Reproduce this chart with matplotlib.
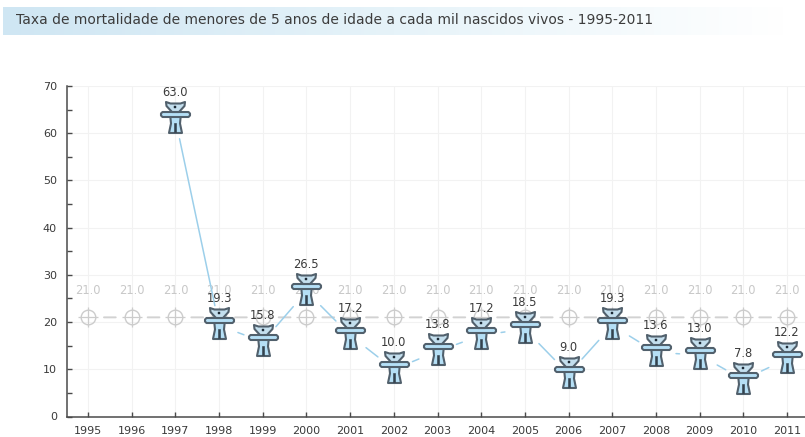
import numpy as np
import matplotlib
matplotlib.use('Agg')
import matplotlib.pyplot as plt
from matplotlib.colors import LinearSegmentedColormap
from matplotlib.path import Path

years = list(range(1995, 2012))
rates = [None, None, 63.0, 19.3, 15.8, 26.5, 17.2, 10.0, 13.8, 17.2, 18.5, 9.0, 19.3, 13.6, 13.0, 7.8, 12.2]
ref_rate = [21.0] * 17
title = "Taxa de mortalidade de menores de 5 anos de idade a cada mil nascidos vivos - 1995-2011"

W, H = 805, 437
DARK = '#4a4a4a'
LINE_BLUE = '#9ccfea'
GRID = '#f2f2f2'
OUTLINE = '#51606c'


def make_path(points):
    # bear sits about 2 px above its value in the picture
    points = [(x, y + 2) for x, y in points]
    codes = [Path.MOVETO] + [Path.LINETO] * (len(points) - 1) + [Path.CLOSEPOLY]
    return Path(points + [points[0]], codes)


# teddy shape, coordinates are pixels from the bear centre
body = make_path([(-5.5, 4), (5.5, 4), (4.5, -6), (6.5, -15.5), (-6.5, -15.5), (-4.5, -6)])
arms = make_path([(-13, 5.5), (13, 5.5), (14.5, 4), (14.5, 2), (13, 0.5), (-13, 0.5), (-14.5, 2), (-14.5, 4)])
head = make_path([(-9.5, 15.5), (-5, 14), (5, 14), (9.5, 15.5), (9, 11.5), (3.5, 5.5), (-3.5, 5.5), (-9, 11.5)])
leg_gap = make_path([(-1.2, -6), (1.2, -6), (1.2, -15), (-1.2, -15)])
eyes = make_path([(-1.4, 11.5), (1.4, 11.5), (1.4, 8.8), (-1.4, 8.8)])


def put_part(ax, path, face, edge, lw, z):
    size = 2 * np.abs(path.vertices).max() * 72 / 100
    ax.plot(years, rates, ls='none', marker=path, ms=size, mfc=face, mec=edge,
            mew=lw, zorder=z, clip_on=False)


fig = plt.figure(figsize=(W / 100, H / 100), dpi=100)

# banner with the fading blue background
bar = fig.add_axes([3 / W, 1 - 35 / H, 782 / W, 28 / H])
bar.imshow(np.linspace(0, 1, 256)[None, :], aspect='auto',
           cmap=LinearSegmentedColormap.from_list('b', ['#cfe6f3', '#e6f3f9', '#ffffff']))
bar.axis('off')
fig.text(16 / W, 1 - 20.5 / H, title, fontsize=10, color='#3c3c3c', va='center')

ax = fig.add_axes([66.5 / W, 1 - 416.5 / H, (W - 66.5) / W, 330.5 / H])
ax.set_ylim(0, 70)
x_per_px = (2011 - 1995) / (787 - 88)
ax.set_xlim(1995 - (88 - 66.5) * x_per_px, 2011 + (W - 787) * x_per_px)

ax.set_xticks(years)
ax.set_yticks(range(0, 71, 10))
ax.set_yticks(range(5, 70, 10), minor=True)
ax.grid(True, color=GRID, lw=0.8)
ax.set_axisbelow(True)
for side in ['top', 'right']:
    ax.spines[side].set_visible(False)
for side in ['left', 'bottom']:
    ax.spines[side].set_color(DARK)
    ax.spines[side].set_linewidth(1.1)
ax.tick_params(axis='both', which='both', direction='in', color=DARK, width=1, length=3.6,
               labelsize=8, labelcolor='#3a3a3a')
ax.tick_params(axis='x', pad=7)
ax.tick_params(axis='y', pad=7)

# reference line, cut short around the targets
for i in range(len(years) - 1):
    ax.annotate('', xy=(years[i + 1], ref_rate[i + 1]), xytext=(years[i], ref_rate[i]),
                arrowprops=dict(arrowstyle='-', color='#d2d2d2', lw=1.4, shrinkA=11.5, shrinkB=11.5),
                zorder=2)
ax.plot(years, ref_rate, ls='none', marker='o', ms=10.5, mfc='none', mec='#cccccc', mew=1, zorder=2)
ax.plot(years, ref_rate, ls='none', marker='+', ms=15, mec='#cccccc', mew=0.9, zorder=2)
for x, v in zip(years, ref_rate):
    ax.annotate('%.1f' % v, (x, v), xytext=(0, 14.5), textcoords='offset points', ha='center', va='bottom',
                fontsize=8.3, color='#c8c8c8', zorder=2)

# rate series, cut short around the bears
for i in range(2, len(years) - 1):
    ax.annotate('', xy=(years[i + 1], rates[i + 1]), xytext=(years[i], rates[i]),
                arrowprops=dict(arrowstyle='-', color=LINE_BLUE, lw=1.1, shrinkA=14.5, shrinkB=14.5),
                zorder=3)

put_part(ax, body, '#b5dff5', OUTLINE, 1.5, 4)
put_part(ax, leg_gap, '#33424e', '#33424e', 0.4, 5)
put_part(ax, arms, '#b5dff5', OUTLINE, 1.5, 5)
put_part(ax, head, '#c4dfee', OUTLINE, 1.5, 6)
put_part(ax, eyes, '#1d2a36', '#1d2a36', 0.3, 7)

for x, v in zip(years, rates):
    if v is None:
        continue
    ax.annotate('%.1f' % v, (x, v), xytext=(0, 14.5), textcoords='offset points', ha='center', va='bottom',
                fontsize=8.3, color='#3a3a3a', zorder=8)

fig.savefig('out.png', dpi=100)
